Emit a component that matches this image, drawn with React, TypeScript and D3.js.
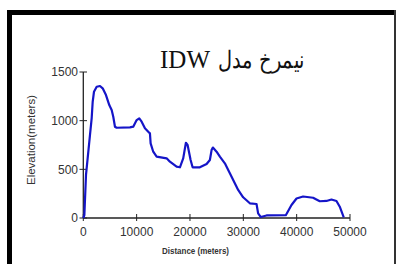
import React from "react";
import * as d3 from "d3";

const distance = [0, 200, 506, 1255, 1573, 1760, 2004, 2510, 3128, 3634, 4252, 4870, 5319, 5619, 5937, 6256, 8747, 9365, 10002, 10489, 10938, 11556, 12175, 12493, 12624, 13111, 13748, 15621, 16239, 17494, 18112, 18730, 19236, 19554, 20116, 20491, 21858, 23113, 23731, 24049, 24293, 24986, 25604, 26540, 27477, 29032, 29968, 31223, 32477, 32777, 33283, 34350, 37965, 39033, 39970, 41206, 43079, 44333, 45588, 46525, 47462, 48080, 48829];
const elevation = [0, 30, 442, 853, 1027, 1194, 1297, 1348, 1356, 1332, 1263, 1160, 1109, 1040, 938, 927, 931, 938, 1006, 1024, 989, 921, 886, 870, 767, 681, 630, 613, 578, 527, 521, 613, 773, 750, 596, 521, 521, 555, 596, 698, 724, 681, 630, 562, 459, 288, 213, 151, 144, 48, 10, 26, 28, 134, 200, 221, 208, 172, 175, 190, 175, 116, 7];
const xTicks = [0, 10000, 20000, 30000, 40000, 50000];
const yTicks = [0, 500, 1000, 1500];
const titleLatin = "IDW";
const titleArabic = "نیمرخ مدل";
const xTitle = "Distance (meters)";
const yTitle = "Elevation(meters)";

export default function App() {
  const x = d3.scaleLinear().domain([0, 50000]).range([83.3, 350]);
  const y = d3.scaleLinear().domain([0, 1500]).range([218, 72]);
  const pts = distance.map((d, i) => [d, elevation[i]] as [number, number]);
  const line = d3.line<[number, number]>().x((p) => x(p[0])).y((p) => y(p[1]));
  const axisColor = "#222";
  const labelColor = "#333";
  return (
    <svg width={396} height={264} style={{ position: "absolute", left: 0, top: 0, background: "#fff" }}>
      <rect x={0} y={0} width={396} height={264} fill="#fff" />
      {/* frame */}
      <rect x={7} y={10} width={5} height={254} fill="#000" />
      <rect x={7} y={10} width={389} height={5} fill="#000" />
      <rect x={394} y={10} width={2} height={254} fill="#333" />
      {/* title */}
      <text x={160} y={68} fontFamily="'Liberation Serif', 'Times New Roman', serif" fontSize={25} fill="#111">
        {titleLatin}
      </text>
      <text x={218} y={68} fontFamily="'DejaVu Serif', 'Liberation Serif', serif" fontSize={24} fill="#111" textLength={87} lengthAdjust="spacingAndGlyphs" direction="rtl" unicodeBidi="embed" style={{ direction: "rtl" }} textAnchor="end">
        {titleArabic}
      </text>
      {/* axes */}
      <line x1={x(0)} x2={x(50000)} y1={218} y2={218} stroke={axisColor} strokeWidth={1.3} />
      <line x1={x(0)} x2={x(0)} y1={y(1500)} y2={218} stroke={axisColor} strokeWidth={1.3} />
      {xTicks.map((t) => (
        <g key={"x" + t}>
          <line x1={x(t)} x2={x(t)} y1={214} y2={221} stroke={axisColor} strokeWidth={1} />
          <text x={x(t)} y={235.5} textAnchor="middle" fontFamily="'Liberation Sans', Arial, sans-serif" fontSize={12} fill={labelColor}>
            {t}
          </text>
        </g>
      ))}
      {yTicks.map((t) => (
        <g key={"y" + t}>
          <line x1={79.5} x2={87} y1={y(t)} y2={y(t)} stroke={axisColor} strokeWidth={1} />
          <text x={78} y={y(t) + 4.3} textAnchor="end" fontFamily="'Liberation Sans', Arial, sans-serif" fontSize={12} fill={labelColor}>
            {t}
          </text>
        </g>
      ))}
      {/* axis titles */}
      <text x={195.5} y={254} textAnchor="middle" fontFamily="'Liberation Sans', Arial, sans-serif" fontSize={9.5} fontWeight="bold" fill={labelColor} textLength={67} lengthAdjust="spacingAndGlyphs">
        {xTitle}
      </text>
      <text transform="translate(34.5,140) rotate(-90)" textAnchor="middle" fontFamily="'Liberation Sans', Arial, sans-serif" fontSize={10} fill={labelColor} textLength={90} lengthAdjust="spacingAndGlyphs">
        {yTitle}
      </text>
      {/* profile */}
      <path d={line(pts) || ""} fill="none" stroke="#1515c8" strokeWidth={2.2} strokeLinejoin="round" />
    </svg>
  );
}
